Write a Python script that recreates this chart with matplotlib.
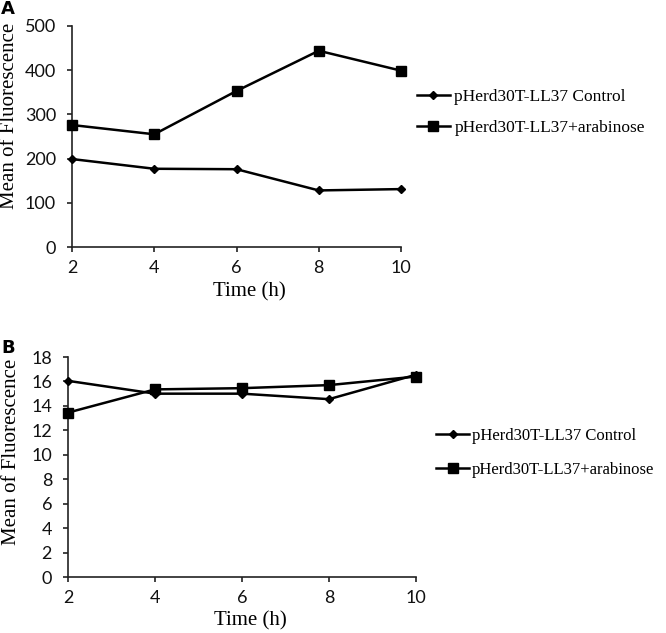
import matplotlib
matplotlib.use("Agg")
import matplotlib.pyplot as plt

# ---- data ----
time_h = [2, 4, 6, 8, 10]
a_control = [199, 177, 176, 128, 131]
a_arabinose = [276, 255, 353, 444, 399]
b_control = [16.05, 15.0, 15.0, 14.55, 16.55]
b_arabinose = [13.45, 15.35, 15.45, 15.7, 16.4]
label_control = "pHerd30T-LL37 Control"
label_arab = "pHerd30T-LL37+arabinose"
a_yticks = [0, 100, 200, 300, 400, 500]
b_yticks = [0, 2, 4, 6, 8, 10, 12, 14, 16, 18]
x_ticks = [2, 4, 6, 8, 10]

W, H = 666, 633
fig = plt.figure(figsize=(W / 100, H / 100), dpi=100)
fig.patch.set_facecolor("white")

def px_axes(left, top, right, bottom):
    return fig.add_axes([left / W, (H - bottom) / H, (right - left) / W, (bottom - top) / H])

serif = "Liberation Serif"
sans = "Lato"

def style(ax, ylim, yticks):
    ax.set_xlim(2, 10)
    ax.set_ylim(*ylim)
    ax.set_xticks(x_ticks)
    ax.set_yticks(yticks)
    for s in ("top", "right"):
        ax.spines[s].set_visible(False)
    for s in ("left", "bottom"):
        ax.spines[s].set_linewidth(1.2)
        ax.spines[s].set_color("#222222")
    ax.tick_params(axis="x", direction="out", length=3.5, width=1.2, pad=6, colors="#222222",
                   labelsize=13)
    ax.tick_params(axis="y", direction="out", length=3.5, width=1.2, pad=8, colors="#222222",
                   labelsize=13)
    for lab in ax.get_xticklabels() + ax.get_yticklabels():
        lab.set_fontfamily(sans)
        lab.set_color("#111111")
    for sp in ax.spines.values():
        sp.set_clip_on(False)

# ---- panel A ----
axA = px_axes(72, 26, 401, 247)
axA.plot(time_h, a_control, color="black", lw=1.8, marker="D", ms=3.6, label=label_control,
         clip_on=False, zorder=3)
axA.plot(time_h, a_arabinose, color="black", lw=1.8, marker="s", ms=7, label=label_arab,
         clip_on=False, zorder=3)
style(axA, (0, 500), a_yticks)
axA.legend(loc="center left", bbox_to_anchor=(417 / W, 1 - 112.5 / H), bbox_transform=fig.transFigure,
           frameon=False, prop={"family": serif, "size": 12.5}, handlelength=1.9,
           handletextpad=0.25, labelspacing=0.85, borderpad=0, borderaxespad=0, numpoints=1)
fig.text(249 / W, 1 - 292 / H, "Time (h)", family=serif, fontsize=15, ha="center", va="center")
fig.text(10 / W, 1 - 116 / H, "Mean of Fluorescence", family=serif, fontsize=15, rotation=90,
         ha="center", va="center")
fig.text(1 / W, 1 - 9 / H, "A", family="DejaVu Sans", fontweight="bold", fontsize=13,
         ha="left", va="center")

# ---- panel B ----
axB = px_axes(68, 357, 416, 577)
axB.plot(time_h, b_control, color="black", lw=1.8, marker="D", ms=3.6, label=label_control,
         clip_on=False, zorder=3)
axB.plot(time_h, b_arabinose, color="black", lw=1.8, marker="s", ms=7, label=label_arab,
         clip_on=False, zorder=3)
style(axB, (0, 18), b_yticks)
axB.legend(loc="center left", bbox_to_anchor=(436 / W, 1 - 453 / H), bbox_transform=fig.transFigure,
           frameon=False, prop={"family": serif, "size": 12}, handlelength=2.0,
           handletextpad=0.15, labelspacing=1.1, borderpad=0, borderaxespad=0, numpoints=1)
fig.text(250 / W, 1 - 621 / H, "Time (h)", family=serif, fontsize=15, ha="center", va="center")
fig.text(12 / W, 1 - 452 / H, "Mean of Fluorescence", family=serif, fontsize=15, rotation=90,
         ha="center", va="center")
fig.text(1 / W, 1 - 348 / H, "B", family="DejaVu Sans", fontweight="bold", fontsize=13,
         ha="left", va="center")

fig.savefig("out.png", dpi=100, facecolor="white")
